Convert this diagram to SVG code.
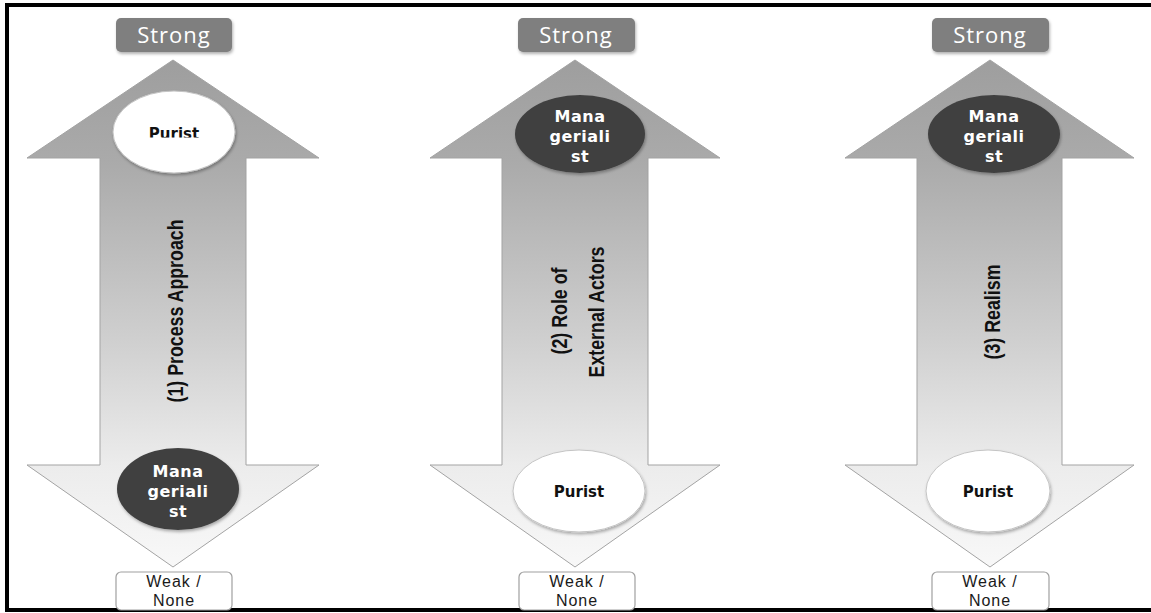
<svg xmlns="http://www.w3.org/2000/svg" width="1151" height="613" viewBox="0 0 1151 613">
  <defs>
    <linearGradient id="shaftFill" gradientUnits="userSpaceOnUse" x1="0" y1="60" x2="0" y2="567">
      <stop offset="0" stop-color="#9e9e9e"/>
      <stop offset="0.2" stop-color="#aaaaaa"/>
      <stop offset="0.55" stop-color="#cfcfcf"/>
      <stop offset="0.8" stop-color="#ececec"/>
      <stop offset="1" stop-color="#f8f8f8"/>
    </linearGradient>
    <filter id="soft" x="-20%" y="-20%" width="140%" height="140%">
      <feDropShadow dx="1" dy="2" stdDeviation="1.5" flood-color="#000" flood-opacity="0.3"/>
    </filter>
    <clipPath id="clipTopPurist">
      <rect x="100" y="90" width="150" height="47.5"/>
    </clipPath>
  </defs>
  <style>
    .frame { fill: #000; }
    .arrow { fill: url(#shaftFill); stroke: #a3a3a3; stroke-width: 1; }
    .strong rect { fill: #7f7f7f; filter: url(#soft); }
    .strong text { fill: #fff; font-family: "Open Sans", "Liberation Sans", sans-serif; font-size: 22px; letter-spacing: 1px; text-anchor: middle; }
    .weak rect { fill: #fff; stroke: #a0a0a0; stroke-width: 1.2; }
    .weak text { fill: #1a1a1a; font-family: "Liberation Sans", "Open Sans", sans-serif; font-size: 16px; letter-spacing: 1px; text-anchor: middle; }
    .dark ellipse { fill: #404040; filter: url(#soft); }
    .dark text { fill: #fff; font-family: "DejaVu Sans", "Liberation Sans", sans-serif; font-weight: bold; font-size: 16px; letter-spacing: 0.5px; text-anchor: middle; }
    .light ellipse { fill: #fff; stroke: #c4c4c4; stroke-width: 1; filter: url(#soft); }
    .light text { fill: #111; font-family: "DejaVu Sans", "Liberation Sans", sans-serif; font-weight: bold; font-size: 15px; text-anchor: middle; }
    .axis { fill: #111; font-family: "Liberation Sans", "DejaVu Sans", sans-serif; font-weight: bold; font-size: 22px; text-anchor: middle; }
  </style>

  <rect width="1151" height="613" fill="#fff"/>

  <!-- outer frame: top, left and bottom rules -->
  <rect class="frame" x="5" y="3" width="1146" height="4"/>
  <rect class="frame" x="5" y="3" width="4" height="609"/>
  <rect class="frame" x="5" y="608" width="1146" height="4"/>

  <!-- double-headed scale arrows -->
  <g id="arrows">
    <polygon class="arrow" points="173,60 319,158 246,158 246,465 319,465 173,567 27,465 100,465 100,158 27,158"/>
    <polygon class="arrow" points="575,60 720,158 648,158 648,465 720,465 575,567 430,465 502,465 502,158 430,158"/>
    <polygon class="arrow" points="990,60 1134,158 1062,158 1062,465 1134,465 990,567 845,465 917,465 917,158 845,158"/>
  </g>

  <!-- axis labels -->
  <g id="label-1">
    <text class="axis" transform="translate(183,311) rotate(-90)" textLength="183" lengthAdjust="spacingAndGlyphs">(1) Process Approach</text>
  </g>
  <g id="label-2">
    <text class="axis" transform="translate(567,311) rotate(-90)" textLength="87" lengthAdjust="spacingAndGlyphs">(2) Role of</text>
    <text class="axis" transform="translate(604,312) rotate(-90)" textLength="131" lengthAdjust="spacingAndGlyphs">External Actors</text>
  </g>
  <g id="label-3">
    <text class="axis" transform="translate(1000,312) rotate(-90)" textLength="95" lengthAdjust="spacingAndGlyphs">(3) Realism</text>
  </g>

  <!-- "Strong" end caps -->
  <g id="strong-1" class="strong">
    <rect x="116" y="18" width="116" height="34" rx="5"/>
    <text x="174" y="43">Strong</text>
  </g>
  <g id="strong-2" class="strong">
    <rect x="518" y="18" width="117" height="34" rx="5"/>
    <text x="576" y="43">Strong</text>
  </g>
  <g id="strong-3" class="strong">
    <rect x="932" y="18" width="117" height="34" rx="5"/>
    <text x="990" y="43">Strong</text>
  </g>

  <!-- "Weak / None" end caps -->
  <g id="weak-1" class="weak">
    <rect x="116" y="572" width="116" height="38" rx="5"/>
    <text x="174" y="587">Weak /</text>
    <text x="174" y="606">None</text>
  </g>
  <g id="weak-2" class="weak">
    <rect x="519" y="572" width="116" height="38" rx="5"/>
    <text x="577" y="587">Weak /</text>
    <text x="577" y="606">None</text>
  </g>
  <g id="weak-3" class="weak">
    <rect x="932" y="572" width="117" height="38" rx="5"/>
    <text x="990" y="587">Weak /</text>
    <text x="990" y="606">None</text>
  </g>

  <!-- position markers on each scale -->
  <g id="purist-1" class="light">
    <ellipse cx="174" cy="132" rx="61" ry="41"/>
    <text x="174" y="139" clip-path="url(#clipTopPurist)">Purist</text>
  </g>
  <g id="managerialist-1" class="dark">
    <ellipse cx="178" cy="489" rx="61" ry="41"/>
    <text x="178" y="477">Mana</text>
    <text x="178" y="497">geriali</text>
    <text x="178" y="517">st</text>
  </g>

  <g id="managerialist-2" class="dark">
    <ellipse cx="580" cy="134" rx="65" ry="39"/>
    <text x="580" y="122">Mana</text>
    <text x="580" y="142">geriali</text>
    <text x="580" y="162">st</text>
  </g>
  <g id="purist-2" class="light">
    <ellipse cx="579" cy="491" rx="66" ry="41"/>
    <text x="579" y="497">Purist</text>
  </g>

  <g id="managerialist-3" class="dark">
    <ellipse cx="994" cy="134" rx="66" ry="39"/>
    <text x="994" y="122">Mana</text>
    <text x="994" y="142">geriali</text>
    <text x="994" y="162">st</text>
  </g>
  <g id="purist-3" class="light">
    <ellipse cx="988" cy="491" rx="62" ry="41"/>
    <text x="988" y="497">Purist</text>
  </g>
</svg>
